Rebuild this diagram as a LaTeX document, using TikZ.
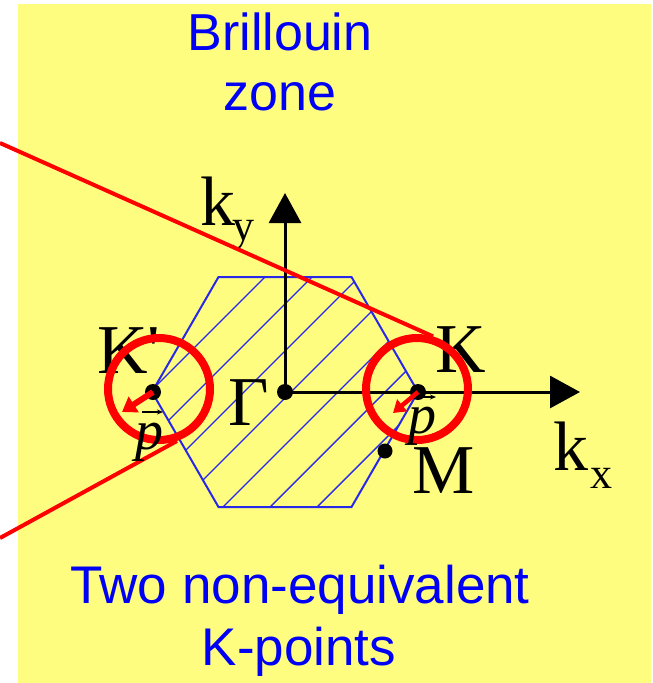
\documentclass[tikz,border=0pt]{standalone}
\usepackage{fontspec}
\setmainfont{Liberation Serif}
\newfontfamily\sansf{Liberation Sans}
\usetikzlibrary{arrows.meta}
\definecolor{bgyellow}{RGB}{255,253,128}
\definecolor{hexblue}{RGB}{40,40,235}
\definecolor{txtblue}{RGB}{0,0,245}
\definecolor{redline}{RGB}{255,0,0}
\begin{document}
\begin{tikzpicture}[x=1pt,y=-1pt,
  kdot/.style={circle,fill=black,inner sep=0pt,minimum size=16pt},
  ring/.style={circle,draw=redline,line width=8pt,inner sep=0pt,minimum size=102pt},
  redlink/.style={redline,line width=4pt},
  redarrow/.style={redline,line width=6pt,-{Triangle[length=14pt,width=18pt]}},
  kaxis/.style={line width=3pt,-{Triangle[length=30pt,width=32pt]}},
  hexline/.style={hexblue,line width=2pt,line join=miter},
  hatchline/.style={hexblue,line width=1.4pt},
  lbl/.style={inner sep=0pt,anchor=base west,font=\fontsize{70}{80}\selectfont},
  subscr/.style={inner sep=0pt,anchor=base west,font=\fontsize{44}{50}\selectfont},
  plbl/.style={inner sep=0pt,anchor=base west,font=\itshape\fontsize{56}{60}\selectfont},
  accent/.style={black,line width=1.3pt,-{Stealth[length=6pt,width=5pt]}},
  heading/.style={inner sep=0pt,anchor=base,text=txtblue,font=\sansf\fontsize{52}{60}\selectfont}
]
\useasboundingbox (0,0) rectangle (653,683);
\fill[bgyellow] (18,4) rectangle (651,683);

% headings
\node[heading] (t1) at (280,50) {Brillouin};
\node[heading] (t2) at (280,110) {zone};
\node[heading,font=\sansf\fontsize{53}{60}\selectfont] (t3) at (300,603) {Two non-equivalent};
\node[heading,font=\sansf\fontsize{53}{60}\selectfont] (t4) at (299,665) {K-points};

% hexagon with hatching
\begin{scope}
  \clip (418,392) -- (351.5,277) -- (218.5,277) -- (152,392) -- (218.5,507) -- (351.5,507) -- cycle;
  \foreach \c in {542,589,...,824} \draw[hatchline] (\c-260,260) -- (\c-520,520);
\end{scope}
\draw[hexline] (418,392) -- (351.5,277) -- (218.5,277) -- (152,392) -- (218.5,507) -- (351.5,507) -- cycle;

% points and axes
\node[kdot] (G) at (285,392) {};
\node[kdot] (K) at (418,392) {};
\node[kdot] (Kp) at (153,392) {};
\node[kdot,minimum size=15pt] (M) at (385,451) {};
\coordinate (kxend) at (580,392);
\coordinate (kyend) at (285,193);
\draw[kaxis] (G.center) -- (kxend);
\draw[kaxis] (G.center) -- (kyend);

% labels
\node[lbl] (ky) at (200,225) {k};
\node[subscr] (kysub) at (232,240) {y};
\node[lbl] (kx) at (553,470) {k};
\node[subscr] (kxsub) at (590,488) {x};
\node[lbl] (Glbl) at (228,425) {Γ};
\node[lbl] (Mlbl) at (412,493) {M};
\node[lbl] (Klbl) at (435,372) {K};
\node[lbl] (Kplbl) at (97,373) {K\textquotesingle};

% red lines and circles
\node[ring] (CK) at (417,389) {};
\node[ring] (CKp) at (159,389) {};
\coordinate (UL) at (0,143);
\coordinate (LL) at (0,538);
\draw[redlink] (UL) -- (CK.73);
\draw[redlink] (LL) -- (CKp.-71);

% p vectors
\coordinate (tipKp) at (122,412);
\coordinate (tipK) at (393,413);
\draw[redarrow] (Kp.center) -- (tipKp);
\draw[redarrow,line width=4.5pt,-{Triangle[length=12pt,width=15pt]}] (K.center) -- (tipK);
\node[plbl] (pKp) at (135,449) {p};
\node[plbl] (pK) at (408,433) {p};
\draw[accent] ([shift={(7,-37)}]pKp.base west) -- ++(21,0);
\draw[accent] ([shift={(12,-36)}]pK.base west) -- ++(16,0);
\end{tikzpicture}
\end{document}
